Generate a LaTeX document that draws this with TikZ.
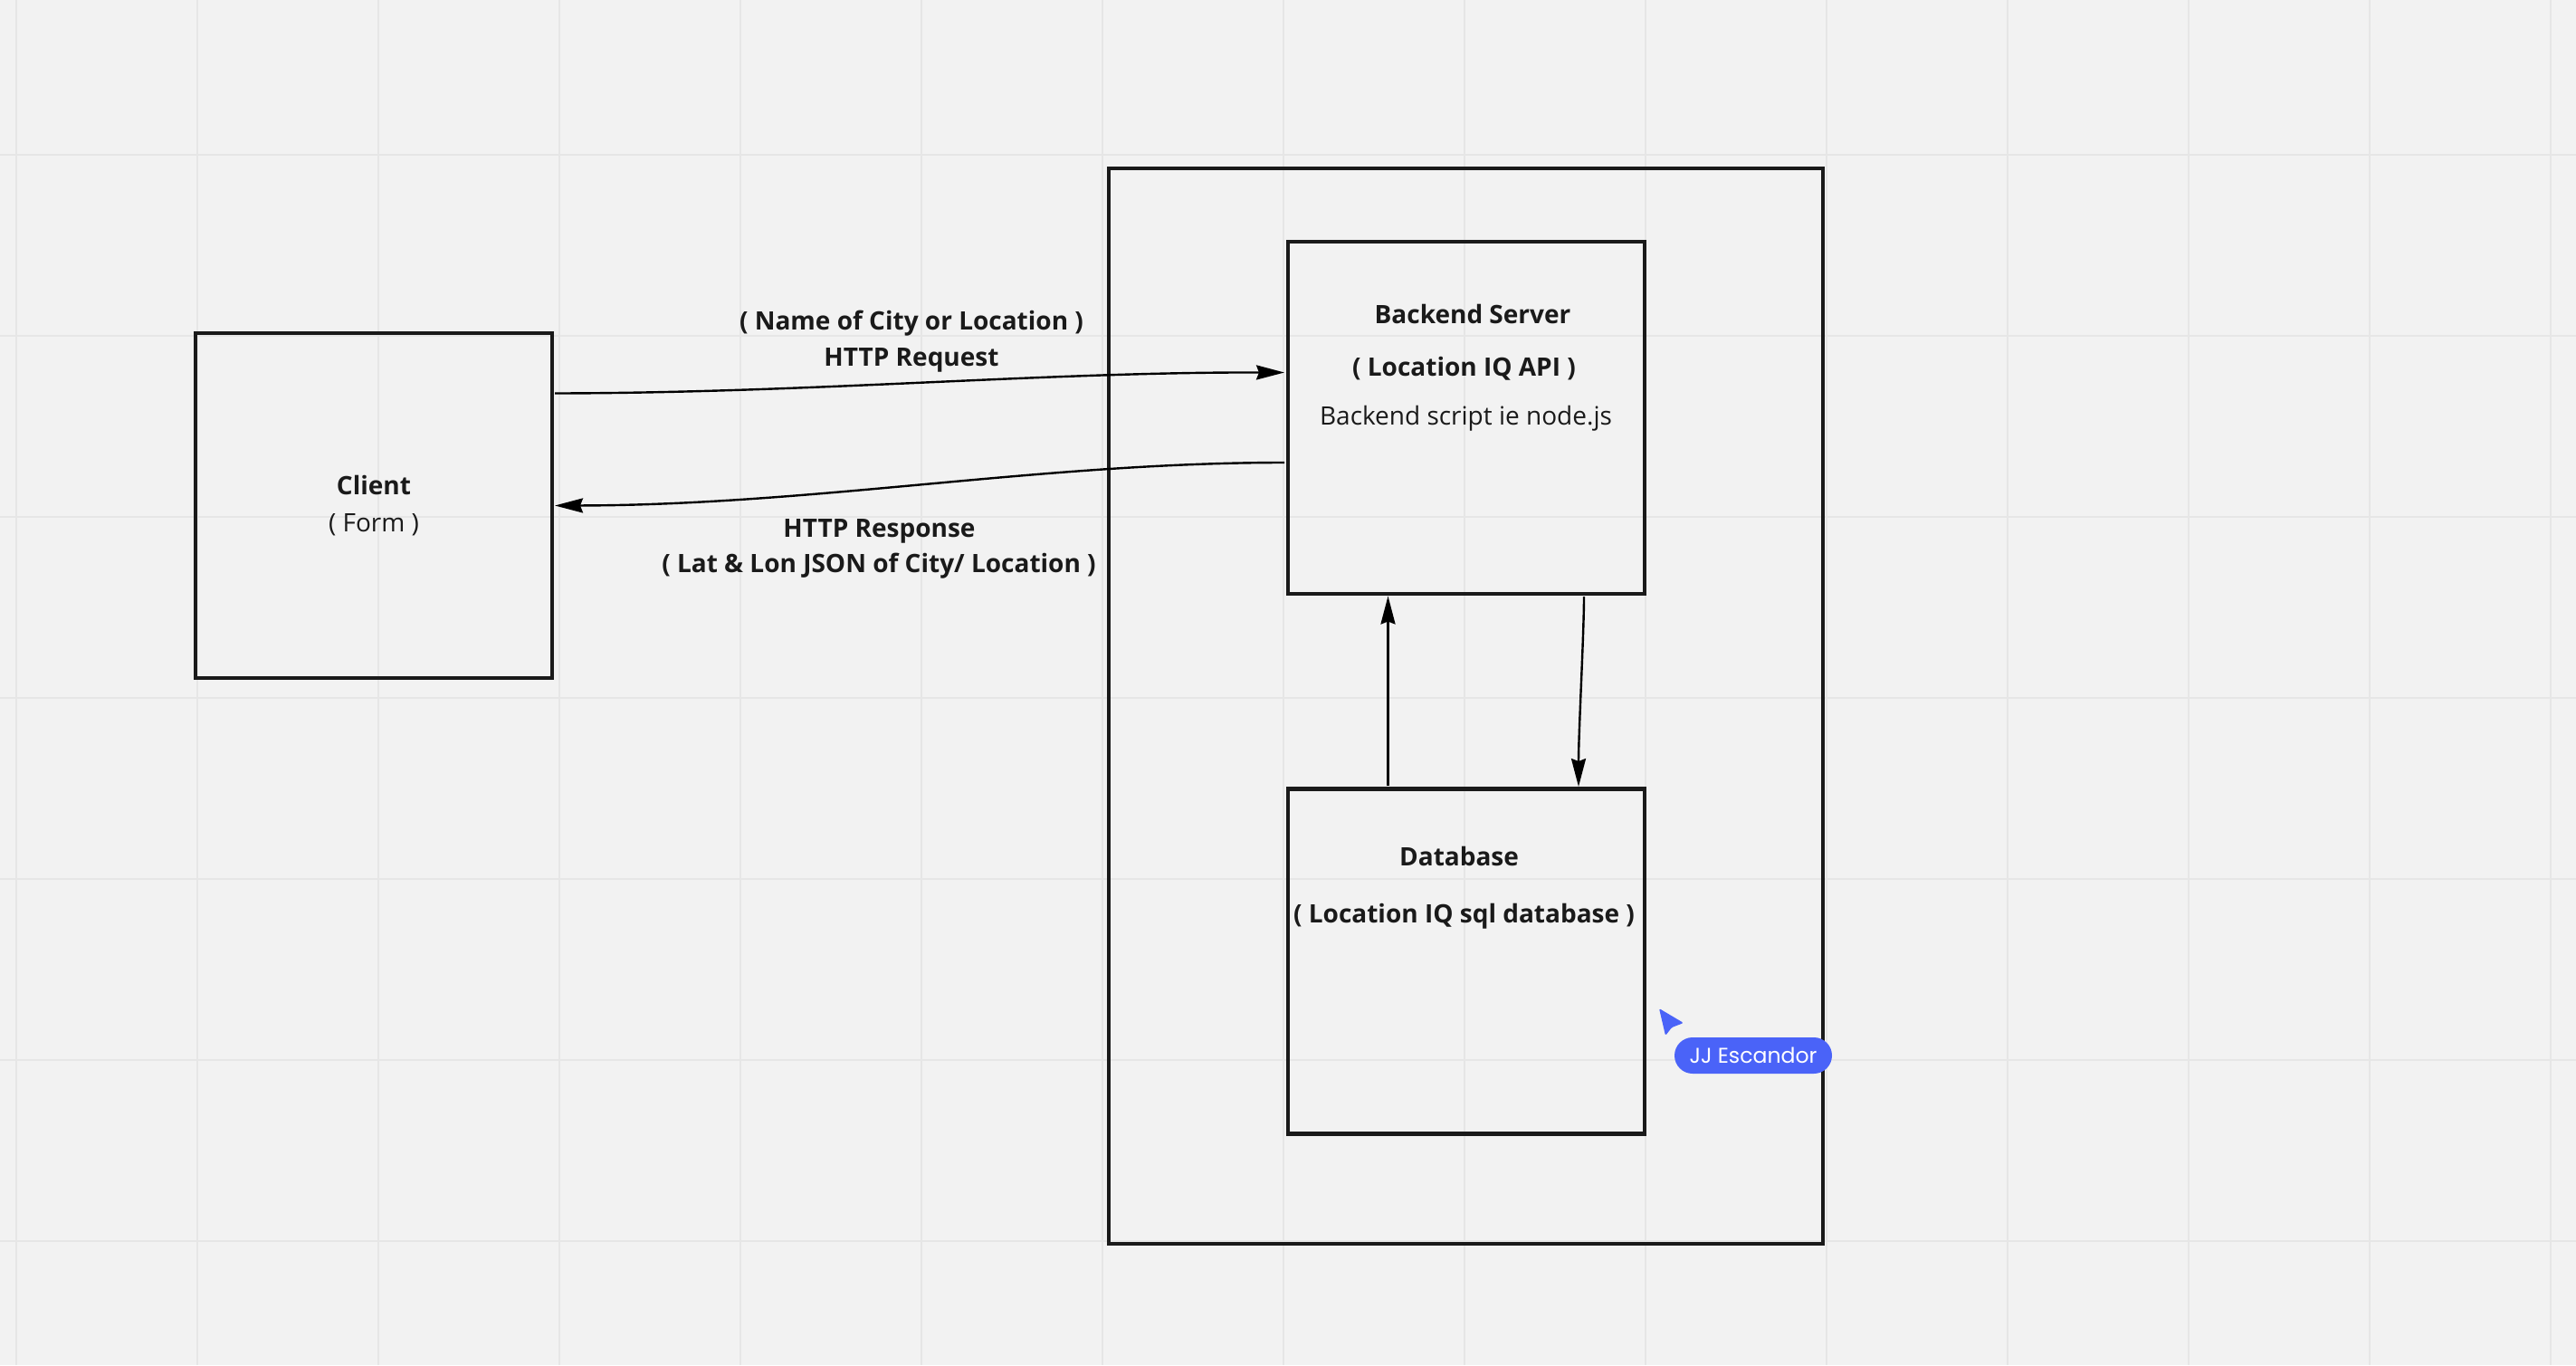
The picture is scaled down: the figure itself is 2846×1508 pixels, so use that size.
\documentclass[tikz,border=0pt]{standalone}
\usepackage{fontspec}
\setmainfont{Open Sans}
\newfontfamily\pillfont{Poppins}
\usetikzlibrary{arrows.meta}
\definecolor{bgc}{HTML}{F2F2F2}
\definecolor{gridc}{HTML}{E6E6E6}
\definecolor{inkc}{HTML}{1A1A1A}
\definecolor{pillc}{HTML}{4A63F8}
\tikzset{
  x=1pt,y=-1pt,
  boxn/.style={draw=inkc,line width=4.4pt,rectangle,inner sep=0pt,outer sep=0pt},
  conn/.style={draw=black,line width=2.4pt,-{Stealth[length=31pt,width=16pt,inset=3pt]}},
  lab/.style={font=\fontsize{28}{28}\selectfont,text=inkc,inner sep=0pt,text height=22pt,text depth=7pt,anchor=center},
  blab/.style={lab,font=\fontsize{28}{28}\selectfont\bfseries},
}
\begin{document}
\begin{tikzpicture}
\fill[bgc] (0,0) rectangle (2846,1508);
\useasboundingbox (0,0) rectangle (2846,1508);
\foreach \i in {0,...,14} \draw[gridc,line width=2.5pt] ({18+200*\i},0) -- ({18+200*\i},1508);
\foreach \i in {0,...,6} \draw[gridc,line width=2.5pt] (0,{171+200*\i}) -- (2846,{171+200*\i});

\node[boxn,minimum width=789pt,minimum height=1188pt] (outer) at (1619.5,780) {};
\node[boxn,minimum width=394pt,minimum height=381pt] (client) at (413,558.5) {};
\node[boxn,minimum width=394pt,minimum height=389pt] (backend) at (1620,461.5) {};
\node[boxn,minimum width=394pt,minimum height=381pt] (database) at (1620,1062) {};

\node[blab] (t1) at (413,539) {Client};
\node[lab] (t2) at (413,580) {( Form )};
\node[blab] (t3) at (1627,350) {Backend Server};
\node[blab] (t4) at (1617.5,408) {( Location IQ API )};
\node[lab] (t5) at (1619.5,462) {Backend script ie node.js};
\node[blab] (t6) at (1612,949) {Database};
\node[blab] (t7) at (1617.5,1012) {( Location IQ sql database )};
\node[blab] (t8) at (1007,356.5) {( Name of City or Location )};
\node[blab] (t9) at (1007,396.5) {HTTP Request};
\node[blab] (t10) at (971.5,586) {HTTP Response};
\node[blab] (t11) at (971,625) {( Lat \& Lon JSON of City/ Location )};

\coordinate (a1s) at ([shift={(3,-124)}]client.east);
\coordinate (a1e) at ([shift={(-4,-50)}]backend.west);
\coordinate (a2s) at ([shift={(-4,49.5)}]backend.west);
\coordinate (a2e) at ([shift={(3,0)}]client.east);
\draw[conn] (a1s) .. controls (900,434) and (1150,411) .. (a1e);
\draw[conn] (a2s) .. controls (1150,511) and (900,558) .. (a2e);
\coordinate (a3s) at ([shift={(-86.5,-3.5)}]database.north);
\coordinate (a3e) at ([shift={(-86.5,2.5)}]backend.south);
\coordinate (a4s) at ([shift={(130,3)}]backend.south);
\coordinate (a4e) at ([shift={(124,-2.5)}]database.north);
\draw[conn] (a3s) -- (a3e);
\draw[conn] (a4s) .. controls +(0,40) and ([shift={(0,-60)}]a4e) .. (a4e);

\fill[pillc,rounded corners=1.5pt] (1833,1114) -- (1860,1130) -- (1847,1135) -- (1840,1144) -- cycle;
\node[fill=pillc,rounded corners=20pt,minimum width=174pt,minimum height=40pt,inner sep=0pt,text=white,font=\pillfont\fontsize{23.6}{24}\selectfont] (pill) at (1937,1166) {JJ Escandor};
\end{tikzpicture}
\end{document}
